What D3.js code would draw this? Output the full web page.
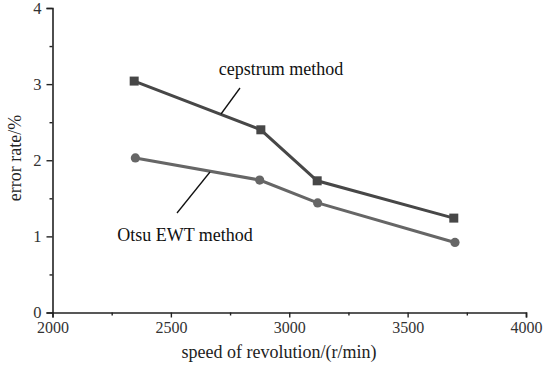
<!DOCTYPE html>
<html>
<head>
<meta charset="utf-8">
<script src="https://cdn.jsdelivr.net/npm/d3@7"></script>
<style>
  html, body { margin: 0; padding: 0; background: #fff; }
  svg { display: block; }
  svg text { font-family: "Times New Roman", "Liberation Serif", "DejaVu Serif", serif !important; }
</style>
</head>
<body>
<svg id="chart" width="554" height="367"></svg>
<script>
// Error rate versus speed of revolution for two estimation methods
const cepstrumSpeed = [2345, 2880, 3118, 3695];
const cepstrumError = [3.04, 2.40, 1.73, 1.24];
const otsuSpeed = [2350, 2875, 3120, 3700];
const otsuError = [2.03, 1.74, 1.44, 0.92];
const xTicks = [2000, 2500, 3000, 3500, 4000];
const yTicks = [0, 1, 2, 3, 4];
const xMinor = [2250, 2750, 3250, 3750];
const yMinor = [0.5, 1.5, 2.5, 3.5];

const svg = d3.select("#chart");
const margin = { left: 52.5, right: 28, top: 8, bottom: 54.5 };
const W = 554, H = 367;

const x = d3.scaleLinear().domain([2000, 4000]).range([margin.left, W - margin.right]);
const y = d3.scaleLinear().domain([0, 4]).range([H - margin.bottom, margin.top]);

const axisColor = "#222";
const labelColor = "#333";

// x axis: major and minor ticks
const gx = svg.append("g").attr("transform", `translate(0,${y(0)})`);
gx.call(d3.axisBottom(x).tickValues(xTicks).tickSize(5).tickPadding(4).tickFormat(d3.format("d")));
gx.append("g").call(d3.axisBottom(x).tickValues(xMinor).tickSize(3).tickFormat(""))
  .select(".domain").remove();
gx.selectAll("path.domain").attr("stroke", axisColor).attr("stroke-width", 1.6);
gx.selectAll(".tick line").attr("stroke", axisColor).attr("stroke-width", 1.4);
gx.selectAll(".tick text").attr("fill", labelColor).style("font-size", "16px");

// y axis: major and minor ticks
const gy = svg.append("g").attr("transform", `translate(${x(2000)},0)`);
gy.call(d3.axisLeft(y).tickValues(yTicks).tickSize(6).tickPadding(5).tickFormat(d3.format("d")));
gy.append("g").call(d3.axisLeft(y).tickValues(yMinor).tickSize(3).tickFormat(""))
  .select(".domain").remove();
gy.selectAll("path.domain").attr("stroke", axisColor).attr("stroke-width", 1.6);
gy.selectAll(".tick line").attr("stroke", axisColor).attr("stroke-width", 1.4);
gy.selectAll(".tick text").attr("fill", labelColor).style("font-size", "16.5px");

// axis titles
svg.append("text")
  .attr("x", 279).attr("y", 358)
  .attr("text-anchor", "middle").attr("fill", "#222")
  .style("font-size", "18px")
  .text("speed of revolution/(r/min)");
svg.append("text")
  .attr("transform", `translate(21,158) rotate(-90)`)
  .attr("text-anchor", "middle").attr("fill", "#222")
  .style("font-size", "18px")
  .text("error rate/%");

// series lines
const line = d3.line().x(d => x(d[0])).y(d => y(d[1]));
const cep = cepstrumSpeed.map((s, i) => [s, cepstrumError[i]]);
const otsu = otsuSpeed.map((s, i) => [s, otsuError[i]]);

svg.append("path").datum(otsu).attr("d", line)
  .attr("fill", "none").attr("stroke", "#666").attr("stroke-width", 3);
svg.append("path").datum(cep).attr("d", line)
  .attr("fill", "none").attr("stroke", "#474747").attr("stroke-width", 3);

// markers
svg.selectAll("circle.otsu").data(otsu).enter().append("circle")
  .attr("class", "otsu")
  .attr("cx", d => x(d[0])).attr("cy", d => y(d[1])).attr("r", 4.6)
  .attr("fill", "#666");
const sq = 9;
svg.selectAll("rect.cep").data(cep).enter().append("rect")
  .attr("class", "cep")
  .attr("x", d => x(d[0]) - sq / 2).attr("y", d => y(d[1]) - sq / 2)
  .attr("width", sq).attr("height", sq)
  .attr("fill", "#474747");

// series annotations with leader lines
svg.append("text").attr("x", 281).attr("y", 75)
  .attr("text-anchor", "middle").attr("fill", "#111")
  .style("font-size", "18px").text("cepstrum method");
svg.append("line").attr("x1", 240).attr("y1", 88).attr("x2", 221).attr("y2", 114)
  .attr("stroke", "#111").attr("stroke-width", 1.3);

svg.append("text").attr("x", 185).attr("y", 241)
  .attr("text-anchor", "middle").attr("fill", "#111")
  .style("font-size", "18px").text("Otsu EWT method");
svg.append("line").attr("x1", 210).attr("y1", 172).attr("x2", 177).attr("y2", 213)
  .attr("stroke", "#111").attr("stroke-width", 1.3);
</script>
</body>
</html>
